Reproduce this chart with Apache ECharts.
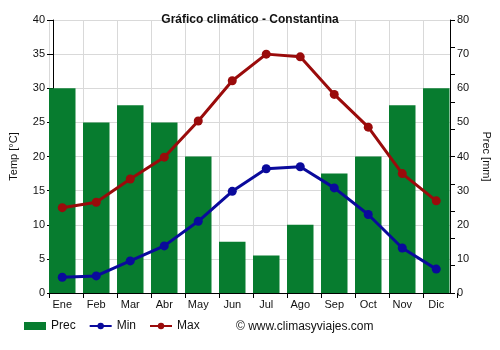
<!DOCTYPE html>
<html>
<head>
<meta charset="utf-8">
<script src="https://cdn.jsdelivr.net/npm/echarts@6/dist/echarts.min.js"></script>
<style>
  html, body { margin: 0; padding: 0; background: #fff; }
  #chart { width: 500px; height: 350px; }
</style>
</head>
<body>
<div id="chart"></div>
<script>
// Monthly climate data for Constantina
const months = ['Ene', 'Feb', 'Mar', 'Abr', 'May', 'Jun', 'Jul', 'Ago', 'Sep', 'Oct', 'Nov', 'Dic'];
const precMm = [60, 50, 55, 50, 40, 15, 11, 20, 35, 40, 55, 60];
const tempMin = [2.3, 2.5, 4.7, 6.9, 10.5, 14.9, 18.2, 18.5, 15.4, 11.5, 6.6, 3.5];
const tempMax = [12.5, 13.3, 16.7, 19.9, 25.2, 31.1, 35.0, 34.6, 29.1, 24.3, 17.5, 13.5];

const FONT = 'Liberation Sans, Arial, sans-serif';
const GREEN = '#077c2f';
const BLUE = '#0a0a9c';
const RED = '#9a0b0b';
const GRID_COLOR = '#d9d9d9';

const TOP = 20, BOTTOM = 57;
const hidden = { show: false };

const chart = echarts.init(document.getElementById('chart'), null, { renderer: 'canvas' });

chart.setOption({
  animation: false,
  textStyle: { fontFamily: FONT },
  title: {
    text: 'Gráfico climático - Constantina',
    left: 'center',
    top: 9,
    textStyle: { fontFamily: FONT, fontSize: 12, fontWeight: 'bold', color: '#111' }
  },
  // grid 0: data (bars + lines); grid 1: frame with value axes; grid 2: month dividers
  grid: [
    { left: 45.25, right: 46.75, top: TOP, bottom: BOTTOM },
    { left: 49, right: 49, top: TOP, bottom: BOTTOM },
    { left: 49, right: 43, top: TOP, bottom: BOTTOM }
  ],
  legend: {
    left: 24,
    top: 320,
    padding: 0,
    itemWidth: 22,
    itemHeight: 8,
    itemGap: 13,
    textStyle: { fontFamily: FONT, fontSize: 12, color: '#111' },
    data: [
      { name: 'Prec', icon: 'rect' },
      { name: 'Min' },
      { name: 'Max' }
    ]
  },
  graphic: [{
    type: 'text',
    left: 236,
    top: 321,
    style: { text: '© www.climasyviajes.com', font: '12px ' + FONT, fill: '#111' }
  }],
  xAxis: [
    {
      gridIndex: 0,
      type: 'category',
      data: months,
      axisLine: hidden,
      axisTick: hidden,
      splitLine: hidden,
      axisLabel: { color: '#111', fontSize: 11, margin: 6 }
    },
    {
      gridIndex: 1,
      type: 'value',
      min: 0, max: 1,
      axisLine: { show: true, onZero: false, lineStyle: { color: '#000', width: 1 } },
      axisTick: hidden,
      axisLabel: hidden,
      splitLine: hidden
    },
    {
      gridIndex: 2,
      type: 'category',
      data: months,
      axisLine: { show: false, onZero: false },
      axisTick: { show: true, length: 5, lineStyle: { color: '#000' } },
      axisLabel: hidden,
      splitLine: { show: true, showMaxLine: false, lineStyle: { color: GRID_COLOR, width: 1 } }
    }
  ],
  yAxis: [
    // data scales
    { gridIndex: 0, type: 'value', min: 0, max: 40, show: false },
    { gridIndex: 0, type: 'value', min: 0, max: 80, show: false },
    // visible temperature axis
    {
      gridIndex: 1,
      type: 'value',
      position: 'left',
      min: 0, max: 40, interval: 5,
      name: 'Temp [°C]',
      nameLocation: 'middle',
      nameGap: 34,
      nameTextStyle: { color: '#111', fontSize: 11 },
      axisLine: { show: true, lineStyle: { color: '#000' } },
      axisTick: { show: true, length: 6, lineStyle: { color: '#000' } },
      axisLabel: { color: '#111', fontSize: 11, margin: 8 },
      splitLine: { show: true, lineStyle: { color: GRID_COLOR, width: 1 } }
    },
    // visible precipitation axis
    {
      gridIndex: 1,
      type: 'value',
      position: 'right',
      min: 0, max: 80, interval: 10,
      name: 'Prec [mm]',
      nameLocation: 'middle',
      nameGap: 31,
      nameRotate: -90,
      nameTextStyle: { color: '#111', fontSize: 11 },
      axisLine: { show: true, lineStyle: { color: '#000' } },
      axisTick: hidden,
      axisLabel: { color: '#111', fontSize: 11, margin: 7 },
      splitLine: hidden
    },
    // precipitation tick marks
    {
      gridIndex: 1,
      type: 'value',
      position: 'right',
      min: 0, max: 80, interval: 8,
      axisLine: hidden,
      axisTick: { show: true, length: 5, lineStyle: { color: '#000' } },
      axisLabel: hidden,
      splitLine: hidden
    },
    { gridIndex: 2, type: 'value', min: 0, max: 1, show: false }
  ],
  series: [
    {
      name: 'Prec',
      type: 'bar',
      xAxisIndex: 0,
      yAxisIndex: 1,
      data: precMm,
      barWidth: 26.5,
      itemStyle: { color: GREEN },
      z: 1
    },
    {
      name: 'Min',
      type: 'line',
      xAxisIndex: 0,
      yAxisIndex: 0,
      data: tempMin,
      symbol: 'circle',
      symbolSize: 9,
      lineStyle: { color: BLUE, width: 3 },
      itemStyle: { color: BLUE },
      z: 3
    },
    {
      name: 'Max',
      type: 'line',
      xAxisIndex: 0,
      yAxisIndex: 0,
      data: tempMax,
      symbol: 'circle',
      symbolSize: 9,
      lineStyle: { color: RED, width: 3 },
      itemStyle: { color: RED },
      z: 3
    }
  ]
});
</script>
</body>
</html>
